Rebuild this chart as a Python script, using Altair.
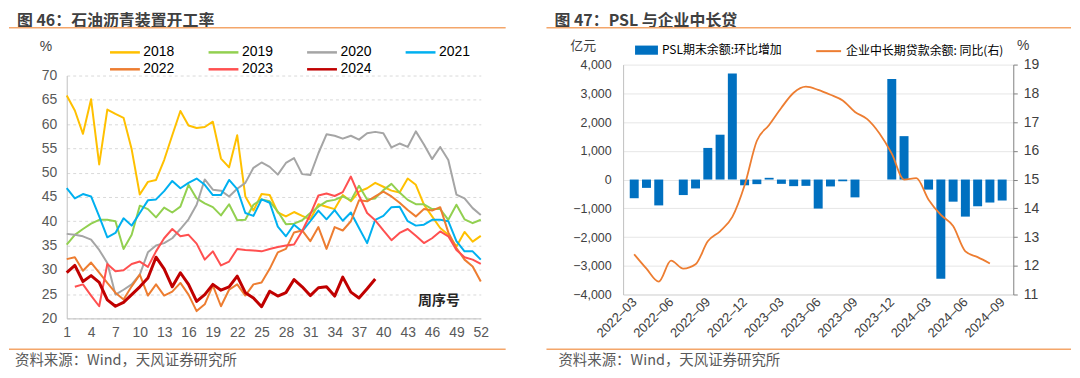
import altair as alt
import pandas as pd

CJK = "Noto Sans CJK SC"
LAT = "Liberation Sans"

# ---------------- left panel data ----------------
weeks = list(range(1, 53))
years_a = ["2018", "2019", "2020", "2021"]
years_b = ["2022", "2023", "2024"]
colors_a = ["#FFC000", "#92D050", "#A5A5A5", "#00B0F0"]
colors_b = ["#ED7D31", "#FF5050", "#C00000"]

y2018 = [65.9, 62.8, 58.0, 65.1, 51.7, 63.0, 62.1, 61.3, 54.8, 45.5,
         48.1, 48.5, 52.6, 57.7, 62.7, 59.7, 59.2, 59.4, 60.5, 52.9,
         51.1, 57.7, 45.1, 42.2, 45.6, 45.4, 41.8, 41.0, 41.9, 41.1,
         40.4, 43.5, 43.0, 42.5, 45.4, 44.1, 46.1, 46.8, 47.9, 47.1,
         46.3, 45.9, 48.8, 47.5, 43.4, 41.0, 38.6, 37.2, 34.8, 37.8,
         35.8, 37.0]
y2019 = [35.2, 37.2, 38.4, 39.5, 40.3, 40.3, 40.0, 34.3, 37.2, 43.2,
         42.5, 40.8, 42.8, 41.8, 43.0, 47.5, 44.7, 43.7, 42.9, 41.2,
         43.5, 40.2, 40.3, 43.4, 44.5, 44.1, 42.0, 39.4, 39.5, 40.2,
         41.7, 43.0, 44.1, 44.4, 45.1, 44.3, 47.3, 44.5, 44.7, 46.4,
         47.7, 45.9, 44.4, 43.5, 43.5, 42.5, 42.5, 40.3, 43.4, 40.4,
         39.6, 40.3]
y2020 = [37.4, 37.2, 36.9, 36.2, 34.1, 31.4, 24.9, 25.9, 27.0, 29.0,
         33.6, 35.0, 35.5, 36.5, 38.4, 40.4, 43.4, 48.6, 46.5, 46.3,
         45.1, 46.7, 47.9, 51.0, 52.1, 51.2, 49.6, 52.0, 53.0, 49.7,
         49.5, 54.0, 57.9, 57.6, 57.0, 57.6, 56.8, 58.1, 58.4, 58.1,
         55.2, 56.0, 55.3, 58.5, 55.8, 52.8, 55.3, 52.6, 45.5, 44.7,
         42.7, 41.3]
y2021 = [46.8, 44.7, 45.6, 45.1, 41.0, 36.7, 37.6, 40.6, 39.1, 41.7,
         44.3, 44.5, 46.2, 48.3, 46.8, 47.9, 48.8, 47.5, 45.4, 45.4,
         48.5, 46.6, 41.7, 41.1, 44.5, 43.8, 38.9, 36.9, 39.3, 37.9,
         40.0, 42.2, 40.4, 42.3, 40.1, 41.8, 38.6, 35.5, 40.3, 41.1,
         42.9, 43.0, 40.0, 39.1, 39.3, 40.3, 40.3, 40.0, 35.9, 33.8,
         33.8, 32.1]
y2022 = [32.2, 32.6, 29.8, 31.5, 29.4, 27.3, 25.3, 23.9, 26.6, 29.0,
         24.7, 27.0, 24.7, 25.5, 27.3, 24.9, 21.5, 22.9, 26.8, 22.5,
         25.9, 27.0, 24.7, 27.0, 27.4, 30.2, 33.6, 34.3, 37.7, 38.1,
         35.9, 38.8, 34.3, 38.8, 38.1, 40.0, 44.3, 44.1, 45.1, 46.1,
         45.1, 43.8, 42.3, 41.0, 42.5, 42.2, 42.9, 37.7, 34.5, 32.1,
         30.7, 27.6]
y2023 = [None, 26.5, 27.0, 24.7, 22.5, 31.2, 29.7, 29.9, 31.2, 31.7,
         30.6, 33.8, 36.5, 38.4, 36.9, 37.2, 35.4, 32.1, 33.8, 30.9,
         31.7, 34.3, 34.1, 34.0, 33.8, 34.3, 34.7, 35.0, 35.2, 38.0,
         41.4, 45.3, 45.7, 45.2, 46.0, 49.2, 45.3, 41.7, 40.2, 38.1,
         36.1, 37.6, 38.4, 37.0, 35.5, 36.5, 37.9, 36.9, 34.1, 32.6,
         32.1, 31.2]
y2024 = [29.4, 30.9, 27.6, 28.8, 27.4, 23.8, 22.5, 23.3, 24.9, 26.5,
         28.3, 32.6, 30.2, 26.5, 29.4, 27.0, 23.5, 24.9, 27.0, 25.8,
         26.5, 28.7, 25.3, 24.2, 22.4, 25.6, 24.6, 25.3, 28.0, 26.5,
         24.7, 26.3, 26.5, 24.6, 28.5, 25.4, 24.2, 26.1, 28.1]
left_ticks = list(range(1, 53, 3))
left_yticks = list(range(20, 71, 5))

# ---------------- right panel data ----------------
months = ["2022–03", "2022–04", "2022–05", "2022–06", "2022–07", "2022–08",
          "2022–09", "2022–10", "2022–11", "2022–12", "2023–01", "2023–02",
          "2023–03", "2023–04", "2023–05", "2023–06", "2023–07", "2023–08",
          "2023–09", "2023–10", "2023–11", "2023–12", "2024–01", "2024–02",
          "2024–03", "2024–04", "2024–05", "2024–06", "2024–07", "2024–08",
          "2024–09"]
psl = [-650, -290, -900, 0, -540, -310, 1100, 1560, 3690, -200,
       -160, 60, -150, -230, -220, -1010, -240, -60, -620, 0, 0, 3500,
       1510, 0, -350, -3450, -770, -1290, -930, -800, -730]
loan_yoy = [12.40, 11.90, 11.45, 12.18, 11.90, 12.05, 12.85, 13.20, 13.70, 14.80,
            16.35, 16.90, 17.50, 18.02, 18.23, 18.12, 17.95, 17.75, 17.35, 17.10,
            16.60, 15.90, 15.00, 15.05, 14.30, 13.77, 13.38, 12.50, 12.30, 12.08]
psl_name = "PSL期末余额:环比增加"
loan_name = "企业中长期贷款余额: 同比(右)"
right_xticks = list(range(0, 31, 3))
right_yticks = list(range(-4000, 4001, 1000))
right_y2ticks = list(range(11, 20))

ORANGE_SEP = "#F4A66A"


def text_mark(s, x, y, size, color, weight="normal", align="left", font=CJK):
    return alt.Chart(pd.DataFrame({"t": [s]})).mark_text(
        align=align, baseline="middle", fontSize=size, color=color,
        fontWeight=weight, font=font
    ).encode(x=alt.value(x), y=alt.value(y), text="t:N")


def rule_mark(x1, x2, y, color=ORANGE_SEP, width=1.5, opacity=1.0):
    return alt.Chart(pd.DataFrame({"a": [0]})).mark_rule(
        color=color, strokeWidth=width, opacity=opacity
    ).encode(x=alt.value(x1), x2=alt.value(x2), y=alt.value(y))


def long_df(names, series):
    rows = []
    for yr, vals in zip(names, series):
        for w, v in zip(weeks, vals):
            if v is not None:
                rows.append({"week": w, "year": yr, "value": v})
    return pd.DataFrame(rows)


df_a = long_df(years_a, [y2018, y2019, y2020, y2021])
df_b = long_df(years_b, [y2022, y2023, y2024])

x_left = alt.X("week:Q",
               scale=alt.Scale(domain=[1, 52], nice=False, zero=False),
               axis=alt.Axis(values=left_ticks, title=None, grid=False, ticks=False,
                             domainColor="#BFBFBF", labelFontSize=14, labelFont=LAT,
                             labelColor="#595959", labelPadding=7, labelFlush=False))
y_left = alt.Y("value:Q",
               scale=alt.Scale(domain=[20, 70], range=[255, 11], nice=False, zero=False),
               axis=alt.Axis(values=left_yticks, title=None, grid=True, gridDash=[3, 3],
                             gridColor="#D9D9D9", ticks=False, domainColor="#BFBFBF",
                             labelFontSize=14, labelFont=LAT, labelColor="#595959",
                             labelPadding=10, labelFlush=False))


def year_legend(lx, ly):
    return alt.Legend(orient="none", legendX=lx, legendY=ly, direction="horizontal",
                      symbolType="M-2.5,0L2.5,0", symbolSize=144, symbolStrokeWidth=2.5,
                      labelFontSize=14, labelFont=LAT, labelColor="#000000",
                      labelOffset=11, columnPadding=28, title=None, padding=0)


lines_a = alt.Chart(df_a).mark_line(strokeJoin="round", strokeWidth=2).encode(
    x=x_left, y=y_left,
    color=alt.Color("year:N", scale=alt.Scale(domain=years_a, range=colors_a),
                    legend=year_legend(51, -20)),
)
lines_b = alt.Chart(df_b).mark_line(strokeJoin="round").encode(
    x=x_left, y=y_left,
    stroke=alt.Stroke("year:N", scale=alt.Scale(domain=years_b, range=colors_b),
                      legend=year_legend(51, -3)),
    strokeWidth=alt.condition(alt.datum.year == "2024", alt.value(3), alt.value(2)),
)

left = alt.layer(
    lines_a, lines_b,
    rule_mark(-58, 0, -56, opacity=0),
    text_mark("图 46：石油沥青装置开工率", -50, -44, 16, "#404040", weight="bold"),
    rule_mark(-58, 441, -37),
    text_mark("%", -21, -18, 14, "#404040", align="center", font=LAT),
    text_mark("周序号", 374, 238, 14, "#262626", weight="bold", align="center"),
    rule_mark(-58, 441, 286),
    text_mark("资料来源：Wind，天风证券研究所", -52, 298, 14.5, "#595959"),
).properties(width=416, height=255)

# ---------------- right panel ----------------
df_bar = pd.DataFrame({"idx": list(range(len(psl))), "psl": psl, "s": psl_name})
df_line = pd.DataFrame({"idx": list(range(len(loan_yoy))), "yoy": loan_yoy, "s": loan_name})
xscale = alt.Scale(domain=[-0.5, 30.5], nice=False, zero=False)
label_expr = "[" + ",".join("'" + m + "'" for m in months) + "][datum.value]"
x_axis = alt.Axis(values=right_xticks, labelExpr=label_expr, title=None,
                  labelAngle=-45, labelAlign="right", labelBaseline="middle",
                  grid=False, ticks=False, domainColor="#D9D9D9",
                  labelFontSize=13, labelFont=LAT, labelColor="#404040",
                  labelPadding=5, labelFlush=False, labelOverlap=False)

bars = alt.Chart(df_bar).mark_bar(size=9).encode(
    x=alt.X("idx:Q", scale=xscale, axis=x_axis),
    y=alt.Y("psl:Q", scale=alt.Scale(domain=[-4000, 4000], nice=False),
            axis=alt.Axis(values=right_yticks, format=",.0f", title=None, grid=True,
                          gridColor="#E6E6E6", ticks=False, domainColor="#BFBFBF",
                          labelFontSize=12.5, labelFont=LAT, labelColor="#404040",
                          labelPadding=12, labelFlush=False)),
    fill=alt.Fill("s:N", scale=alt.Scale(domain=[psl_name], range=["#0070C0"]),
                  legend=alt.Legend(orient="none", legendX=12, legendY=-26,
                                    symbolType="M-1,-0.4L1,-0.4L1,0.4L-1,0.4Z",
                                    symbolSize=529, symbolStrokeWidth=0,
                                    labelFontSize=12, labelFont=CJK, labelColor="#000000",
                                    labelOffset=4, title=None, padding=0, labelLimit=300)),
)

line = alt.Chart(df_line).mark_line(interpolate="monotone", strokeWidth=1.8).encode(
    x=alt.X("idx:Q", scale=xscale, axis=x_axis),
    y=alt.Y("yoy:Q", scale=alt.Scale(domain=[11, 19], nice=False, zero=False),
            axis=alt.Axis(orient="right", values=right_y2ticks, title=None, grid=False,
                          ticks=True, tickColor="#808080", tickSize=4,
                          domainColor="#808080", labelFontSize=14, labelFont=LAT,
                          labelColor="#404040", labelPadding=6, labelFlush=False)),
    stroke=alt.Stroke("s:N", scale=alt.Scale(domain=[loan_name], range=["#ED7D31"]),
                      legend=alt.Legend(orient="none", legendX=193, legendY=-27,
                                        symbolType="stroke", symbolSize=625,
                                        symbolStrokeWidth=2, labelFontSize=12,
                                        labelFont=CJK, labelColor="#000000",
                                        labelOffset=4, title=None, padding=0,
                                        labelLimit=300)),
)

right = alt.layer(
    bars, line,
    text_mark("图 47：PSL 与企业中长贷", -69, -44, 16, "#404040", weight="bold"),
    rule_mark(-77, 450, -37),
    text_mark("亿元", -40, -19, 13, "#404040", align="center"),
    text_mark("%", 402, -19, 14, "#404040", align="center", font=LAT),
    rule_mark(-77, 450, 286),
    text_mark("资料来源：Wind，天风证券研究所", -65, 298, 14.5, "#595959"),
).resolve_scale(y="independent").properties(width=392, height=231)

chart = alt.hconcat(left, right, spacing=143, bounds="flush").resolve_scale(
    color="independent", fill="independent", stroke="independent"
).resolve_legend(
    color="independent", fill="independent", stroke="independent"
).properties(padding=0).configure_view(stroke=None)

chart.save("out.html", embed_options={"renderer": "svg", "actions": False})
